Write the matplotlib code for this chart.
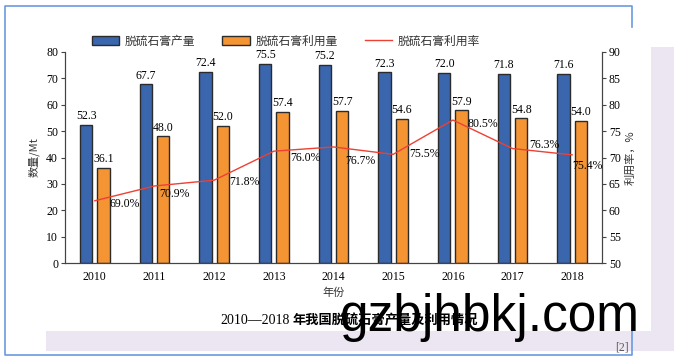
import numpy as np
import matplotlib
matplotlib.use("Agg")
import matplotlib.pyplot as plt
from matplotlib.patches import Rectangle
from matplotlib.lines import Line2D

years = ["2010", "2011", "2012", "2013", "2014", "2015", "2016", "2017", "2018"]
production = [52.3, 67.7, 72.4, 75.5, 75.2, 72.3, 72.0, 71.8, 71.6]
utilization = [36.1, 48.0, 52.0, 57.4, 57.7, 54.6, 57.9, 54.8, 54.0]
# where the red line is drawn on the right axis
rate_line = [61.8, 64.6, 65.7, 71.2, 72.0, 70.6, 77.1, 71.7, 70.5]
rate_labels = ["69.0%", "70.9%", "71.8%", "76.0%", "76.7%", "75.5%", "80.5%", "76.3%", "75.4%"]

W, H = 674, 361
BLUE = "#3a66ae"
ORANGE = "#f59432"
RED = "#ee4033"
EDGE = "#2b2b2b"
LAV = "#ece6f2"
SERIF = ["Liberation Serif", "Noto Sans CJK SC"]
CJK = ["Noto Sans CJK SC", "DejaVu Sans"]

fig = plt.figure(figsize=(W / 100, H / 100), dpi=100)


def fx(x):
    return x / W


def fy(y):
    return 1 - y / H


# page decorations
fig.add_artist(Rectangle((fx(651), fy(331)), fx(674) - fx(651), fy(47) - fy(331),
                         transform=fig.transFigure, color=LAV, lw=0, zorder=0))
fig.add_artist(Rectangle((fx(46), fy(351)), fx(674) - fx(46), fy(331) - fy(351),
                         transform=fig.transFigure, color=LAV, lw=0, zorder=0))
bx = [632, 632, 5, 5, 632, 632]
by = [27, 6, 6, 355, 355, 331]
fig.add_artist(Line2D([fx(v) for v in bx], [fy(v) for v in by], transform=fig.transFigure,
                      color="#6a9ae0", lw=1.2, zorder=1))

ax = fig.add_axes([fx(65), fy(263), fx(602) - fx(65), fy(52) - fy(263)])
ax2 = ax.twinx()

x = np.arange(len(years))
bw = 0.21
ax.bar(x - 0.145, production, bw, color=BLUE, edgecolor=EDGE, lw=1.0, label="脱硫石膏产量", zorder=2)
ax.bar(x + 0.145, utilization, bw, color=ORANGE, edgecolor=EDGE, lw=1.0, label="脱硫石膏利用量", zorder=2)

for i in range(len(years)):
    ax.annotate(f"{production[i]:.1f}", (x[i] - 0.145, production[i]), xytext=(0, 2),
                textcoords="offset points", ha="center", va="bottom", fontsize=8.5, family=SERIF)
    ax.annotate(f"{utilization[i]:.1f}", (x[i] + 0.145, utilization[i]), xytext=(0, 2),
                textcoords="offset points", ha="center", va="bottom", fontsize=8.5, family=SERIF)

ax2.plot(x, rate_line, color=RED, lw=1.0, label="脱硫石膏利用率", zorder=3)
offs = [(15, -3), (5, -8), (15, -2), (16, -7), (12, -14), (16, 0), (15, -4), (17, 4), (0, -11)]
for i in range(len(years)):
    ax2.annotate(rate_labels[i], (x[i], rate_line[i]), xytext=offs[i], textcoords="offset pixels",
                 ha="left", va="center", fontsize=8.5, family=SERIF)

ax.set_xlim(-0.5, 8.5)
ax.set_ylim(0, 80)
ax2.set_ylim(50, 90)
ax.set_xticks(x)
ax.set_xticklabels(years)
ax.set_yticks(range(0, 81, 10))
ax2.set_yticks(range(50, 91, 5))
for a in (ax, ax2):
    a.tick_params(labelsize=8.5, length=3, width=0.8, color="#444444", pad=2)
    for lab in a.get_xticklabels() + a.get_yticklabels():
        lab.set_family(SERIF)
    a.spines["top"].set_visible(False)
    for s in ("left", "right", "bottom"):
        a.spines[s].set_color("#444444")
        a.spines[s].set_linewidth(0.8)
ax.tick_params(axis="x", length=0, pad=6)

ax.set_ylabel("数量/Mt", family=CJK, fontsize=8, color="#333333", labelpad=5)
ax2.set_ylabel("利用率，%", family=CJK, fontsize=8, color="#333333", labelpad=3)
ax.set_xlabel("年份", family=CJK, fontsize=8, color="#333333", labelpad=3)

h1, l1 = ax.get_legend_handles_labels()
h2, l2 = ax2.get_legend_handles_labels()
leg = fig.legend(h1 + h2, l1 + l2, ncol=3, frameon=False, loc="center",
                 bbox_to_anchor=(fx(286), fy(41)), prop={"family": CJK, "size": 8.5},
                 handlelength=2.3, handleheight=0.9, columnspacing=2.3, handletextpad=0.5)
for t in leg.get_texts():
    t.set_color("#333333")

# caption, watermark, reference mark
fig.text(fx(290), fy(320), "2010—2018", family=SERIF, fontsize=10, ha="right", va="center")
fig.text(fx(293), fy(320), "年我国脱硫石膏产量及利用情况", family=CJK, fontsize=9.5,
         weight="bold", ha="left", va="center")
fig.text(fx(340), fy(331), "gzbjhbkj.com", family="Liberation Sans", fontsize=37,
         ha="left", va="baseline", color="black", zorder=5)
fig.text(fx(615), fy(347), "[2]", family=SERIF, fontsize=8.5, color="#555555", ha="left", va="center")

fig.savefig("out.png", dpi=100)
